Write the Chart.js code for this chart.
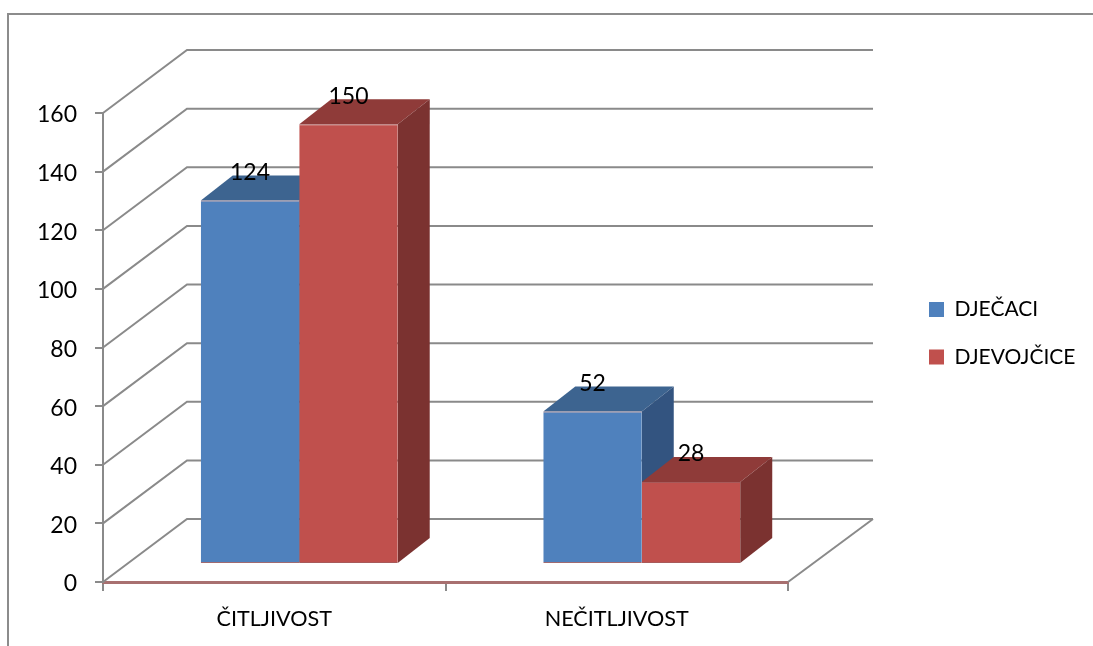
<!DOCTYPE html>
<html>
<head>
<meta charset="utf-8">
<style>
    html, body { margin: 0; padding: 0; background: #fff; overflow: hidden; }
    canvas { display: block; }
</style>
<script src="https://cdn.jsdelivr.net/npm/chart.js@4"></script>
</head>
<body>
<canvas id="chart" width="1093" height="646"></canvas>
<script>
const categories = ['ČITLJIVOST', 'NEČITLJIVOST'];
const boysLabel = 'DJEČACI';
const girlsLabel = 'DJEVOJČICE';
const boysValues = [124, 52];
const girlsValues = [150, 28];
const valueTicks = [0, 20, 40, 60, 80, 100, 120, 140, 160];

const FONT = 'Lato, "Open Sans", sans-serif';
const FONT_SIZE = 21.6;
const NUMBER_FONT_SIZE = 23;
const GRID_COLOR = '#8a8a8a';

// Fake 3D: how far the walls and the bars are pushed back, in pixels
const WALL_DEPTH = { x: 84, y: -63 };
const BAR_SHIFT = { x: 25, y: -18 };
const BAR_DEPTH = { x: 32, y: -25 };

const SHADES = [
    { top: '#3d6490', side: '#335480' },
    { top: '#8f3b39', side: '#7b3230' }
];

function polygon(ctx, points, color) {
    ctx.fillStyle = color;
    ctx.beginPath();
    points.forEach(([x, y], i) => (i ? ctx.lineTo(x, y) : ctx.moveTo(x, y)));
    ctx.closePath();
    ctx.fill();
}

function line(ctx, points, color, width) {
    ctx.strokeStyle = color;
    ctx.lineWidth = width;
    ctx.beginPath();
    points.forEach(([x, y], i) => (i ? ctx.lineTo(x, y) : ctx.moveTo(x, y)));
    ctx.stroke();
}

const frame3d = {
    id: 'frame3d',
    beforeDraw(chart) {
        // outer chart border, runs off the right and bottom edges
        line(chart.ctx, [[8, 646], [8, 14], [1093, 14]], '#8c8c8c', 2);
    },
    afterLayout(chart) {
        // legend sits in the right margin, not inside the plot
        const legend = chart.legend;
        const padding = legend.options.labels.padding;
        const w = legend.width;
        const h = legend.height;
        legend.left = 929 - padding;
        legend.right = legend.left + w;
        legend.top = 299 - padding;
        legend.bottom = legend.top + h;
    },
    beforeDatasetsDraw(chart) {
        const { ctx, scales: { y } } = chart;
        const { left, right, bottom } = chart.chartArea;

        // side wall and back wall grid
        y.ticks.forEach(tick => {
            const py = y.getPixelForValue(tick.value);
            line(ctx, [
                [left, py],
                [left + WALL_DEPTH.x, py + WALL_DEPTH.y],
                [right + WALL_DEPTH.x + 1, py + WALL_DEPTH.y]
            ], GRID_COLOR, 2);
        });
        line(ctx, [[right, bottom], [right + WALL_DEPTH.x + 1, bottom + WALL_DEPTH.y]], GRID_COLOR, 2);

        // top and side faces of the bars, the fronts come from Chart.js
        chart.getSortedVisibleDatasetMetas().forEach((meta, d) => {
            meta.data.forEach(bar => {
                const x0 = bar.x - bar.width / 2 + BAR_SHIFT.x;
                const x1 = bar.x + bar.width / 2 + BAR_SHIFT.x;
                const top = bar.y + BAR_SHIFT.y;
                const base = bar.base + BAR_SHIFT.y;
                polygon(ctx, [
                    [x0, top], [x1, top],
                    [x1 + BAR_DEPTH.x, top + BAR_DEPTH.y],
                    [x0 + BAR_DEPTH.x, top + BAR_DEPTH.y]
                ], SHADES[d].top);
                polygon(ctx, [
                    [x1, top], [x1 + BAR_DEPTH.x, top + BAR_DEPTH.y],
                    [x1 + BAR_DEPTH.x, base + BAR_DEPTH.y], [x1, base]
                ], SHADES[d].side);
            });
        });

        ctx.save();
        ctx.translate(BAR_SHIFT.x, BAR_SHIFT.y);
    },
    afterDatasetsDraw(chart) {
        const ctx = chart.ctx;
        ctx.restore();

        // value labels sit on the top faces
        ctx.fillStyle = '#000';
        ctx.font = `${NUMBER_FONT_SIZE}px ${FONT}`;
        ctx.textAlign = 'center';
        ctx.textBaseline = 'middle';
        chart.getSortedVisibleDatasetMetas().forEach((meta, d) => {
            meta.data.forEach((bar, i) => {
                const value = chart.data.datasets[d].data[i];
                ctx.fillText(value, bar.x + BAR_SHIFT.x, bar.y + BAR_SHIFT.y - 28);
            });
        });
    }
};

const barBorder = { top: 1, bottom: 1, left: 0, right: 0 };

new Chart(document.getElementById('chart').getContext('2d'), {
    type: 'bar',
    data: {
        labels: categories,
        datasets: [
            {
                label: boysLabel,
                data: boysValues,
                backgroundColor: '#4f81bd',
                borderColor: '#a06a70',
                borderWidth: barBorder,
                borderSkipped: false,
                clip: false
            },
            {
                label: girlsLabel,
                data: girlsValues,
                backgroundColor: '#c0504d',
                borderColor: '#a85a5a',
                borderWidth: barBorder,
                borderSkipped: false,
                clip: false
            }
        ]
    },
    options: {
        responsive: false,
        animation: false,
        datasets: {
            bar: { categoryPercentage: 0.575, barPercentage: 1 }
        },
        layout: {
            padding: { top: 113, right: 305, bottom: 0, left: 0 }
        },
        scales: {
            x: {
                afterFit: scale => { scale.height = 64; },
                border: { color: '#a87070', width: 3 },
                grid: {
                    color: GRID_COLOR,
                    lineWidth: 2,
                    tickLength: 9,
                    drawOnChartArea: false
                },
                ticks: {
                    color: '#000',
                    padding: 15,
                    maxRotation: 0,
                    font: { family: FONT, size: FONT_SIZE }
                }
            },
            y: {
                min: valueTicks[0],
                max: valueTicks[valueTicks.length - 1],
                afterFit: scale => { scale.width = 103; },
                border: { color: GRID_COLOR, width: 2 },
                grid: {
                    color: GRID_COLOR,
                    lineWidth: 2,
                    tickLength: 8,
                    drawOnChartArea: false
                },
                ticks: {
                    stepSize: valueTicks[1] - valueTicks[0],
                    color: '#000',
                    padding: 18,
                    labelOffset: 2,
                    font: { family: FONT, size: NUMBER_FONT_SIZE }
                }
            }
        },
        plugins: {
            title: { display: false },
            tooltip: { enabled: false },
            legend: {
                position: 'chartArea',
                align: 'start',
                labels: {
                    color: '#000',
                    boxWidth: 15,
                    boxHeight: 15,
                    padding: 26.4,
                    font: { family: FONT, size: 21 },
                    generateLabels: chart => Chart.defaults.plugins.legend.labels.generateLabels(chart)
                        .map(item => ({ ...item, lineWidth: 0 }))
                }
            }
        }
    },
    plugins: [frame3d]
});
</script>
</body>
</html>
